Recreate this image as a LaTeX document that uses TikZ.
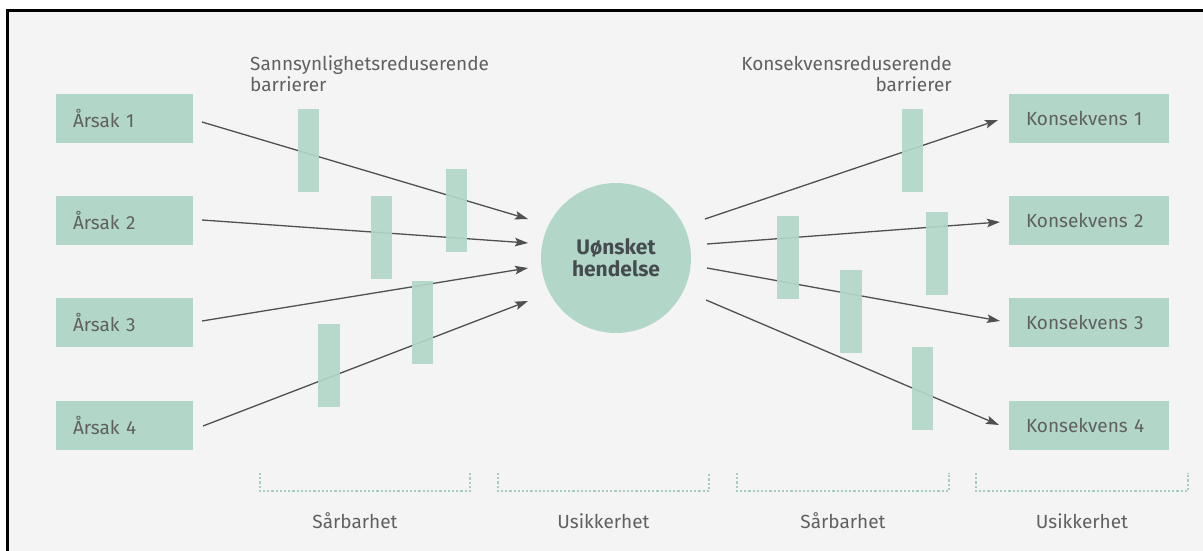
\documentclass[tikz,border=0pt]{standalone}
\usepackage{fontspec}
\setmainfont{Fira Sans}
\usetikzlibrary{arrows.meta}
\definecolor{bg}{HTML}{F4F4F4}
\definecolor{mint}{HTML}{B2D7C9}
\definecolor{txt}{HTML}{606060}
\definecolor{arr}{HTML}{505050}
\definecolor{dots}{HTML}{A6CEC0}
\definecolor{evtxt}{HTML}{454B4E}
\tikzset{
  causebox/.style={fill=mint, draw=none, minimum height=49pt, text width=103pt, inner xsep=17pt, align=left, text=txt, font=\fontsize{19}{22}\selectfont},
  consbox/.style={fill=mint, draw=none, minimum height=49pt, text width=126pt, inner xsep=17pt, align=left, text=txt, font=\fontsize{19}{22}\selectfont},
  barrierbox/.style={fill=mint, fill opacity=0.92, draw=none, minimum width=21.5pt, minimum height=83pt, inner sep=0pt},
  event/.style={circle, fill=mint, draw=none, minimum size=150pt, inner sep=0pt, align=center, text=evtxt, font=\fontsize{21}{25}\selectfont\bfseries},
  conn/.style={draw=arr, line width=1.3pt, -{Stealth[length=13pt,width=8.5pt,inset=2.5pt]}},
  bracketline/.style={draw=dots, line width=1.3pt, dash pattern=on 2.2pt off 2pt},
  caption/.style={text=txt, font=\fontsize{19}{22}\selectfont, inner sep=0pt},
}
\begin{document}
\begin{tikzpicture}[x=1pt, y=-1pt]
\useasboundingbox (0,0) rectangle (1203,551);
\fill[white] (0,0) rectangle (1203,551);
\fill[bg] (7,10) rectangle (1203,551);
\draw[black, line width=3.2pt] (7.4,551) -- (7.4,10.8) -- (1203,10.8);

% titles
\node[caption, anchor=base west, align=left] (tl1) at (250,71) {Sannsynlighetsreduserende};
\node[caption, anchor=base west] (tl2) at (250,92) {barrierer};
\node[caption, anchor=base east] (tr1) at (952,71) {Konsekvensreduserende};
\node[caption, anchor=base east] (tr2) at (952,92) {barrierer};

% causes
\node[causebox] (a1) at (124.5,118.5) {Årsak 1};
\node[causebox] (a2) at (124.5,220.5) {Årsak 2};
\node[causebox] (a3) at (124.5,322.5) {Årsak 3};
\node[causebox] (a4) at (124.5,425) {Årsak 4};

% consequences
\node[consbox] (k1) at (1089,118.5) {Konsekvens 1};
\node[consbox] (k2) at (1089,220.5) {Konsekvens 2};
\node[consbox] (k3) at (1089,322.5) {Konsekvens 3};
\node[consbox] (k4) at (1089,425) {Konsekvens 4};

% event
\node[event] (ev) at (616,258) {Uønsket\\[-3pt]hendelse};

% connector end points
\coordinate (s1) at (202,122);
\coordinate (s2) at (202,220);
\coordinate (s3) at (202,321);
\coordinate (s4) at (203,426);
\coordinate (e1) at (528,219);
\coordinate (e2) at (528,243);
\coordinate (e3) at (528,268);
\coordinate (e4) at (528,301);
\coordinate (r1) at (705,219);
\coordinate (r2) at (707,244);
\coordinate (r3) at (707,268);
\coordinate (r4) at (706,300);
\coordinate (t1) at (998,120);
\coordinate (t2) at (1000,222);
\coordinate (t3) at (1000,321);
\coordinate (t4) at (999,425);

\draw[conn] (s1) -- (e1);
\draw[conn] (s2) -- (e2);
\draw[conn] (s3) -- (e3);
\draw[conn] (s4) -- (e4);
\draw[conn] (r1) -- (t1);
\draw[conn] (r2) -- (t2);
\draw[conn] (r3) -- (t3);
\draw[conn] (r4) -- (t4);

% barriers
\node[barrierbox] (b1) at (308.5,150.5) {};
\node[barrierbox] (b2) at (456.5,210.5) {};
\node[barrierbox] (b3) at (381.5,237) {};
\node[barrierbox] (b4) at (422.5,322) {};
\node[barrierbox] (b5) at (329,365.5) {};
\node[barrierbox] (b6) at (912.5,150.5) {};
\node[barrierbox] (b7) at (788,257.5) {};
\node[barrierbox] (b8) at (937,253.5) {};
\node[barrierbox] (b9) at (851,311.5) {};
\node[barrierbox] (b10) at (922.5,388.5) {};

% brackets
\draw[bracketline] (260,473) -- (260,491) -- (470,491) -- (470,473);
\draw[bracketline] (498,473) -- (498,491) -- (709,491) -- (709,473);
\draw[bracketline] (737,473) -- (737,491) -- (949,491) -- (949,473);
\draw[bracketline] (976,473) -- (976,491) -- (1188,491) -- (1188,473);

\node[caption, anchor=base] (c1) at (355,528) {Sårbarhet};
\node[caption, anchor=base] (c2) at (603.5,528) {Usikkerhet};
\node[caption, anchor=base] (c3) at (843,528) {Sårbarhet};
\node[caption, anchor=base] (c4) at (1082,528) {Usikkerhet};
\end{tikzpicture}
\end{document}
